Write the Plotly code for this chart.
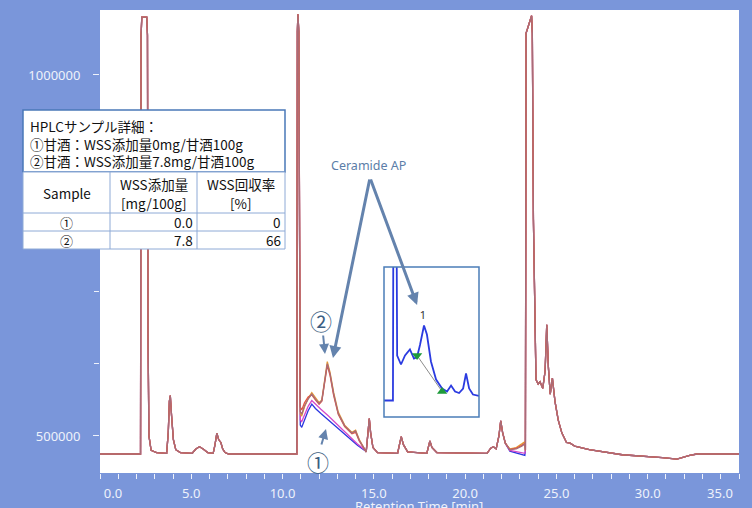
import plotly.graph_objects as go

# ---------------- data ----------------
# common part of all chromatograms (0 - 10.92 min)
time_common_a = [0, 2.22, 2.25, 2.29, 2.56, 2.60, 2.63, 2.68, 2.80, 3.10, 3.65, 3.74, 3.80, 3.85, 3.92, 4.02,
                 4.15, 4.40, 5.05, 5.25, 5.45, 5.65, 5.90, 6.20, 6.30, 6.40, 6.50, 6.62, 6.72, 6.85, 7.05,
                 10.78, 10.81, 10.84, 10.89, 10.92]
signal_common_a = [475000, 475000, 1055000, 1080000, 1080000, 1055000, 640000, 500000, 480000, 477000, 476000,
                   505000, 548000, 556000, 528000, 495000, 481000, 477000, 476000, 482000, 485000, 482000,
                   477000, 476000, 488000, 504000, 495000, 491000, 482000, 477000, 475000,
                   475000, 1060000, 1084000, 1060000, 800000]

# sample 1 (WSS 0 mg) region 11 - 14.5 min
time_s1 = [10.97, 11.05, 11.20, 11.40, 11.60, 11.80, 12.10, 12.50, 12.90, 13.30, 13.70, 14.10, 14.50]
signal_s1_blue = [515000, 512000, 522000, 535000, 544000, 538000, 531000, 522000, 513000, 504000, 495000, 487000, 480000]
signal_s1_magenta = [522000, 520000, 530000, 541000, 549000, 544000, 537000, 528000, 518000, 508000, 498000, 489000, 481000]

# sample 2 (WSS 7.8 mg) region 11 - 14.5 min
time_s2 = [10.97, 11.05, 11.20, 11.40, 11.60, 11.80, 12.00, 12.15, 12.30, 12.45, 12.60, 12.80, 13.05, 13.40,
           13.80, 14.00, 14.20, 14.50]
signal_s2_orange = [530000, 528000, 540000, 552000, 560000, 553000, 546000, 550000, 578000, 603000, 588000,
                    560000, 533000, 515000, 505000, 508000, 495000, 483000]
signal_s2_red = [540000, 536000, 546000, 554000, 557000, 550000, 544000, 548000, 574000, 598000, 584000,
                 556000, 530000, 513000, 503000, 505000, 493000, 482000]
signal_s2_mauve = [534000, 530000, 542000, 551000, 558000, 551000, 545000, 549000, 576000, 600000, 586000,
                   558000, 531000, 514000, 504000, 507000, 494000, 482000]

# common part 14.6 - 22.2 min
time_common_b = [14.58, 14.68, 14.75, 14.82, 14.95, 15.20, 16.30, 16.42, 16.50, 16.62, 16.85, 17.90, 18.00,
                 18.07, 18.18, 18.45, 21.20, 21.40, 21.55, 21.70, 21.85, 21.95, 22.05, 22.20]
signal_common_b = [478000, 505000, 524000, 505000, 484000, 477000, 476000, 490000, 499000, 488000, 478000,
                   476000, 488000, 493000, 484000, 477000, 476000, 483000, 485000, 482000, 500000, 521000,
                   505000, 490000]

# region before the large peak at 23.3 min
time_pre = [22.45, 22.80, 23.10, 23.27]
signal_pre_blue = [479000, 476000, 474000, 473000]
signal_pre_magenta = [480000, 478000, 477000, 476000]
signal_pre_orange = [482000, 484000, 489000, 492000]
signal_pre_red = [481000, 483000, 487000, 490000]
signal_pre_mauve = [481000, 482000, 486000, 489000]

# common part 23.3 - 35 min
time_common_c = [23.30, 23.34, 23.64, 23.68, 23.74, 23.88, 24.00, 24.10, 24.25, 24.38, 24.47, 24.56, 24.66,
                 24.78, 24.92, 25.10, 25.30, 25.55, 25.75, 26.00, 26.80, 28.60, 30.80, 31.60, 32.30, 32.70, 35.00]
signal_common_c = [480000, 1058000, 1082000, 1058000, 800000, 578000, 572000, 575000, 566000, 590000, 654000,
                   595000, 558000, 580000, 548000, 522000, 504000, 491000, 490000, 486000, 481000, 474000,
                   470000, 468000, 473000, 475000, 475000]

# inset (zoom of Ceramide AP region)
inset_time = [10.30, 10.79, 10.81, 10.99, 11.02, 11.23, 11.45, 11.72, 11.94, 12.11, 12.27, 12.49, 12.65,
              12.87, 13.15, 13.48, 13.75, 13.97, 14.19, 14.41, 14.63, 14.79, 14.96, 15.17, 15.50]
inset_signal = [11, 11, 120, 120, 41, 35, 41, 45, 39, 40, 48, 61, 55, 37, 25, 19, 17, 21, 17, 16, 19, 29,
                19, 15, 14]
inset_int_time = [12.11, 13.48]
inset_int_signal = [41, 17]
inset_peak_time = [12.43]
inset_peak_signal = [67]
inset_peak_label = ["1"]

# table
table_header_top = ["Sample", "WSS添加量", "WSS回収率"]
table_header_unit = ["", "[mg/100g]", "[%]"]
table_samples = ["①", "②"]
table_amount = ["0.0", "7.8"]
table_recovery = ["0", "66"]
detail_lines = ["HPLCサンプル詳細：", "①甘酒：WSS添加量0mg/甘酒100g", "②甘酒：WSS添加量7.8mg/甘酒100g"]

x_tick_values = [5, 10, 15, 20, 25, 30]
x_tick_text = ["5.0", "10.0", "15.0", "20.0", "25.0", "30.0"]
x_first_tick, x_first_text = [0], ["0.0"]
x_last_tick, x_last_text = [35], ["35.0"]
y_tick_values = [500000, 1000000]
y_tick_text = ["500000", "1000000"]

# ---------------- layout helpers ----------------
W, H = 752, 508
L, R, T, B = 100, 13, 10, 35
PW, PH = W - L - R, H - T - B


def px(x):
    return (x - L) / PW


def py(y):
    return (H - B - y) / PH


BG = "#7A96DA"
TXT = "#EEF2FB"
FONT = "Noto Sans"
JFONT = "Noto Sans CJK JP"
XRANGE = [0, 35]

fig = go.Figure()

traces = [
    ("①", "#2B36E0", signal_s1_blue, time_s1, signal_pre_blue),
    ("①", "#D548C8", signal_s1_magenta, time_s1, signal_pre_magenta),
    ("②", "#E39A34", signal_s2_orange, time_s2, signal_pre_orange),
    ("②", "#E8553E", signal_s2_red, time_s2, signal_pre_red),
    ("②", "#A86C78", signal_s2_mauve, time_s2, signal_pre_mauve),
]
for name, color, mid, tmid, pre in traces:
    t = time_common_a + tmid + time_common_b + time_pre + time_common_c
    s = signal_common_a + mid + signal_common_b + pre + signal_common_c
    fig.add_trace(go.Scatter(x=t, y=s, mode="lines", line=dict(color=color, width=1.3),
                             name=name, showlegend=False, hoverinfo="skip", cliponaxis=True))

# empty traces that register the two edge-label axes
for ax_id in ("x3", "x4"):
    fig.add_trace(go.Scatter(x=[], y=[], mode="lines", xaxis=ax_id, yaxis="y",
                             showlegend=False, hoverinfo="skip"))

# inset traces
fig.add_trace(go.Scatter(x=inset_int_time, y=inset_int_signal,
                         mode="lines", line=dict(color="#8C8C8C", width=1),
                         xaxis="x2", yaxis="y2", showlegend=False, hoverinfo="skip"))
fig.add_trace(go.Scatter(x=inset_time, y=inset_signal, mode="lines", line=dict(color="#2B3BE0", width=1.8),
                         xaxis="x2", yaxis="y2", showlegend=False, hoverinfo="skip"))
fig.add_trace(go.Scatter(x=inset_int_time, y=inset_int_signal, mode="markers",
                         marker=dict(symbol=["triangle-down", "triangle-up"], size=9, color="#1E9A3A"),
                         xaxis="x2", yaxis="y2", showlegend=False, hoverinfo="skip"))
fig.add_trace(go.Scatter(x=inset_peak_time, y=inset_peak_signal, mode="text", text=inset_peak_label,
                         textfont=dict(size=11, color="#333333", family=FONT),
                         xaxis="x2", yaxis="y2", showlegend=False, hoverinfo="skip"))

shapes = []
# inset background (in the inset subplot's own lower layer) and border
shapes.append(dict(type="rect", xref="x2 domain", yref="y2 domain", x0=0, x1=1, y0=0, y1=1,
                   fillcolor="#BFE6F8", line=dict(width=0), layer="below"))
shapes.append(dict(type="rect", xref="paper", yref="paper", x0=px(384), x1=px(479), y0=py(417), y1=py(267),
                   fillcolor="rgba(0,0,0,0)", line=dict(color="#4B7DB8", width=1.5), layer="above"))
# right frame strip (keeps the traces inside the plot frame)
shapes.append(dict(type="rect", xref="paper", yref="paper", x0=1, x1=(W - L) / PW, y0=0, y1=1,
                   fillcolor=BG, line=dict(width=0), layer="above"))
# detail text box
shapes.append(dict(type="rect", xref="paper", yref="paper", x0=px(23), x1=px(285), y0=py(172), y1=py(110),
                   fillcolor="white", line=dict(color="#4A78B8", width=1.5), layer="above"))
# table box
shapes.append(dict(type="rect", xref="paper", yref="paper", x0=px(23), x1=px(285), y0=py(249), y1=py(172),
                   fillcolor="white", line=dict(color="#8EAAD6", width=1), layer="above"))
for xc in (110, 197):
    shapes.append(dict(type="line", xref="paper", yref="paper", x0=px(xc), x1=px(xc), y0=py(249), y1=py(172),
                       line=dict(color="#8EAAD6", width=1), layer="above"))
for yr in (213, 231):
    shapes.append(dict(type="line", xref="paper", yref="paper", x0=px(23), x1=px(285), y0=py(yr), y1=py(yr),
                       line=dict(color="#8EAAD6", width=1), layer="above"))

TFONT = dict(family=JFONT, size=13.5, color="#111111")
ann = []


def label(x, y, text, font, xanchor="center"):
    ann.append(dict(xref="paper", yref="paper", x=px(x), y=py(y), text=text, showarrow=False,
                    xanchor=xanchor, yanchor="middle", font=font))


label(28, 143, "<br>".join(detail_lines), TFONT, "left")
ann[-1]["align"] = "left"
col_centers = [66.5, 153.5, 241]
for c, h, u in zip(col_centers, table_header_top, table_header_unit):
    if u:
        label(c, 184, h, TFONT)
        label(c, 203, u, TFONT)
    else:
        label(c, 193, h, TFONT)
row_centers = [222, 240]
for r, s, a, rec in zip(row_centers, table_samples, table_amount, table_recovery):
    label(66.5, r, s, dict(family=JFONT, size=13, color="#111111"))
    label(195, r, a, TFONT, "right")
    label(283, r, rec, TFONT, "right")

ARROW = "#6483AD"
label(368, 165, "Ceramide AP", dict(family=FONT, size=12.5, color="#5B7DA8"))
ann.append(dict(xref="x", yref="y", x=12.76, y=608000, text="", showarrow=True, ax=37, ay=-180,
                arrowcolor=ARROW, arrowwidth=3, arrowhead=2, arrowsize=0.8, standoff=0, startstandoff=0))
ann.append(dict(xref="x2", yref="y2", x=12.11, y=74.7, text="", showarrow=True, ax=-47, ay=-127,
                arrowcolor=ARROW, arrowwidth=3, arrowhead=2, arrowsize=0.8, standoff=0, startstandoff=0))
label(321, 320, "②", dict(family=JFONT, size=22, color="#3C5E82"))
label(318, 461, "①", dict(family=JFONT, size=22, color="#3C5E82"))
ann.append(dict(xref="paper", yref="paper", x=px(325), y=py(354), text="", showarrow=True, ax=-2, ay=-20,
                arrowcolor=ARROW, arrowwidth=2, arrowhead=2, arrowsize=1, standoff=0, startstandoff=0))
ann.append(dict(xref="paper", yref="paper", x=px(326), y=py(429), text="", showarrow=True, ax=-5, ay=17,
                arrowcolor=ARROW, arrowwidth=2, arrowhead=2, arrowsize=1, standoff=0, startstandoff=0))
label(419, 506, "Retention Time [min]", dict(family=FONT, size=13, color=TXT))

TICKFONT = dict(family=FONT, size=13, color=TXT)
edge_axis = dict(range=XRANGE, overlaying="x", anchor="y", side="bottom", showgrid=False, zeroline=False,
                 showline=False, automargin=False, tickmode="array", ticks="outside", ticklen=5,
                 tickcolor="rgba(0,0,0,0)", ticklabelstandoff=3, tickfont=TICKFONT, fixedrange=True,
                 visible=True)

fig.update_layout(
    template="none",
    width=W, height=H, margin=dict(l=L, r=R, t=T, b=B, pad=0), autosize=False,
    paper_bgcolor=BG, plot_bgcolor="white", showlegend=False,
    shapes=shapes, annotations=ann,
    xaxis=dict(range=XRANGE, showgrid=False, zeroline=False, showline=False, automargin=False,
               tickmode="array", tickvals=x_tick_values, ticktext=x_tick_text,
               ticks="outside", ticklen=5, tickcolor=TXT, tickwidth=1, ticklabelstandoff=3,
               minor=dict(tickmode="array", tickvals=list(range(0, 36)), ticks="outside", ticklen=5,
                          tickcolor=TXT, showgrid=False),
               tickfont=TICKFONT),
    # first and last tick labels are kept inside the frame, as in the original software
    xaxis3=dict(edge_axis, tickvals=x_first_tick, ticktext=x_first_text, ticklabelshift=13),
    xaxis4=dict(edge_axis, tickvals=x_last_tick, ticktext=x_last_text, ticklabelshift=-19),
    yaxis=dict(range=[448700, 1090000], showgrid=False, zeroline=False, showline=False, automargin=False,
               tickmode="array", tickvals=y_tick_values, ticktext=y_tick_text,
               ticks="outside", ticklen=6, tickcolor=TXT, tickwidth=1, ticklabelstandoff=10,
               minor=dict(tickmode="array", tickvals=[600000, 700000, 800000, 900000], ticks="outside",
                          ticklen=5, tickcolor=TXT, showgrid=False),
               tickfont=TICKFONT),
    xaxis2=dict(domain=[px(384), px(479)], range=[10.30, 15.50], visible=False, anchor="y2",
                showgrid=False, zeroline=False),
    yaxis2=dict(domain=[py(417), py(267)], range=[0, 100], visible=False, anchor="x2",
                showgrid=False, zeroline=False),
)

fig.write_html("out.html")
